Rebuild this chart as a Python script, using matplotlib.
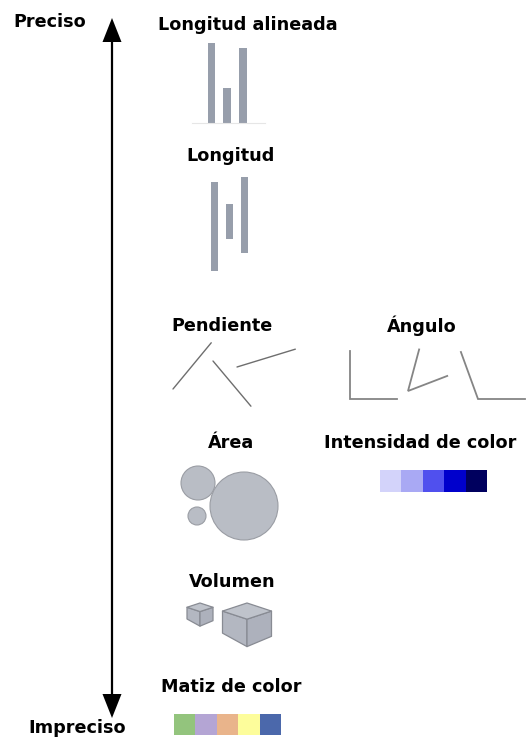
import matplotlib
matplotlib.use('Agg')
import matplotlib.pyplot as plt
from matplotlib.patches import Rectangle, Circle, Polygon
import numpy as np

plt.rcParams['font.family'] = ['DejaVu Sans']

# ---------------- data ----------------
titles = ['Longitud alineada', 'Longitud', 'Pendiente', 'Ángulo', 'Área',
          'Intensidad de color', 'Volumen', 'Matiz de color']
axis_labels = ['Preciso', 'Impreciso']
aligned_lengths = [80, 35, 75]
length_offsets = [5, 27, 0]
length_values = [89, 35, 76]
slope_angles = [50.4, -50.0, 17.0]
slope_lengths = [60, 59, 61]
angle_arm1 = [90, 75, 110]
angle_arm2 = [0, 21, 0]
angle_len1 = [48, 43, 50]
angle_len2 = [47, 42, 47]
circle_radii = [17, 9, 34]
intensity_colors = ['#d3d3fa', '#a9a9f4', '#5050ee', '#0000cc', '#00005e']
hue_colors = ['#93c47d', '#b4a5d4', '#e9b48b', '#fdfd9b', '#4b68ab']
cube_sizes = [13, 24.5]

# ---------------- layout ----------------
W, H = 530, 750
fig = plt.figure(figsize=(W / 100, H / 100), dpi=100)
ax = fig.add_axes([0, 0, 1, 1])
ax.set_xlim(0, W)
ax.set_ylim(H, 0)
ax.axis('off')

bar_color = '#979eab'
fs = 12.7

def title(txt, x, y):
    ax.text(x, y, txt, ha='center', va='center', fontsize=fs,
            fontweight='bold', color='black')

# axis arrow
arrow_x, arrow_top, arrow_bot = 112, 18, 718
head_w, head_l = 9.5, 24
ax.plot([arrow_x, arrow_x], [arrow_top + head_l - 2, arrow_bot - head_l + 2],
        color='black', lw=1.6, solid_capstyle='butt')
ax.add_patch(Polygon([[arrow_x, arrow_top], [arrow_x - head_w, arrow_top + head_l],
                      [arrow_x + head_w, arrow_top + head_l]], closed=True,
                     color='black', lw=0))
ax.add_patch(Polygon([[arrow_x, arrow_bot], [arrow_x - head_w, arrow_bot - head_l],
                      [arrow_x + head_w, arrow_bot - head_l]], closed=True,
                     color='black', lw=0))
title(axis_labels[0], 50, 22)
title(axis_labels[1], 77, 728)

# Longitud alineada
title(titles[0], 248, 25)
base = 123
xs = [211.5, 227, 243]
ax.plot([192, 265], [base, base], color='#e6e6e6', lw=0.8)
for x, h in zip(xs, aligned_lengths):
    ax.add_patch(Rectangle((x - 3.8, base - h), 7.6, h, color=bar_color, lw=0))

# Longitud
title(titles[1], 231, 156)
top_ref = 177
xs = [214, 229.5, 244]
for x, o, h in zip(xs, length_offsets, length_values):
    ax.add_patch(Rectangle((x - 3.5, top_ref + o), 7, h, color=bar_color, lw=0))

# Pendiente
title(titles[2], 222, 326)
starts = [(173, 389), (213, 361), (237, 367)]
for (x0, y0), a, L in zip(starts, slope_angles, slope_lengths):
    r = np.radians(a)
    ax.plot([x0, x0 + L * np.cos(r)], [y0, y0 - L * np.sin(r)],
            color='#6e6e6e', lw=1.0, solid_capstyle='round')

# Ángulo
title(titles[3], 422, 326)
vertices = [(350, 399), (408, 391), (478, 399)]
for (vx, vy), a1, a2, l1, l2 in zip(vertices, angle_arm1, angle_arm2, angle_len1, angle_len2):
    r1, r2 = np.radians(a1), np.radians(a2)
    ax.plot([vx + l1 * np.cos(r1), vx, vx + l2 * np.cos(r2)],
            [vy - l1 * np.sin(r1), vy, vy - l2 * np.sin(r2)],
            color='#858585', lw=1.3, solid_joinstyle='miter')

# Área
title(titles[4], 231, 443)
centers = [(198, 483), (197, 516), (244, 506)]
for (cx, cy), r in zip(centers, circle_radii):
    ax.add_patch(Circle((cx, cy), r, facecolor='#b9bdc5', edgecolor='#9a9da4', lw=0.8))

# Intensidad de color
title(titles[5], 420, 443)
x0, sw = 380, 21.4
for i, c in enumerate(intensity_colors):
    ax.add_patch(Rectangle((x0 + i * sw, 470), sw, 22, color=c, lw=0))

# Volumen
title(titles[6], 232, 582)
cube_pos = [(200, 603), (247, 603)]
for (cx, ty), s in zip(cube_pos, cube_sizes):
    rh = 0.33 * s
    front = ty + 2 * rh + 1.12 * s
    top = [(cx, ty), (cx - s, ty + rh), (cx, ty + 2 * rh), (cx + s, ty + rh)]
    left = [(cx - s, ty + rh), (cx, ty + 2 * rh), (cx, front), (cx - s, ty + rh + 0.9 * s)]
    right = [(cx + s, ty + rh), (cx, ty + 2 * rh), (cx, front), (cx + s, ty + rh + 1.03 * s)]
    for pts, fc in [(left, '#b3b7c1'), (right, '#adb1bc'), (top, '#bfc3cb')]:
        ax.add_patch(Polygon(pts, closed=True, facecolor=fc, edgecolor='#888b93',
                             lw=0.9, joinstyle='round'))

# Matiz de color
title(titles[7], 231, 687)
x0 = 174
for i, c in enumerate(hue_colors):
    ax.add_patch(Rectangle((x0 + i * sw, 714), sw, 21, color=c, lw=0))

fig.savefig('out.png', dpi=100)
